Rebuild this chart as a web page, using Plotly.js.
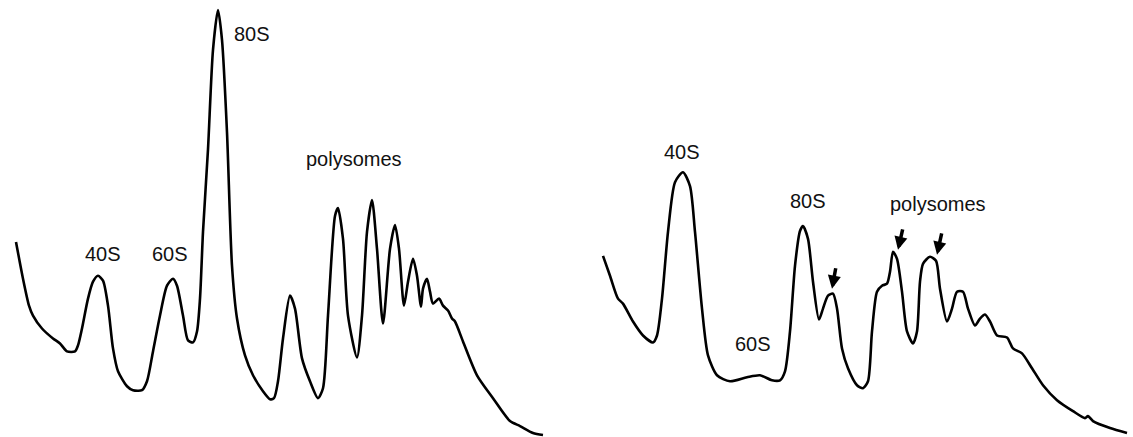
<!DOCTYPE html>
<html>
<head>
<meta charset="utf-8">
<script src="https://cdn.plot.ly/plotly-3.0.1.min.js"></script>
<style>html,body{margin:0;padding:0;background:#fff;}#chart{width:1133px;height:437px;}</style>
</head>
<body>
<div id="chart"></div>
<script>
// Left profile: position along gradient (x) and absorbance height (y)
const leftX = [16,23,29,33,42,53,60,67,75,78,82,88,93,98,103,108,113,118,127,133,142,147,153,160,167,173,177,183,188,193,197,200,203,208,213,218,222,227,232,237,245,253,263,270,274,278,283,290,295,302,310,318,323,328,335,338,343,348,357,362,367,372,377,383,390,395,399,404,408,413,417,421,423,427,430,433,439,443,448,452,455,463,477,493,510,520,533,543];
const leftPy = [243,280,307,317,330,340,345,353,353,347,330,300,283,277,282,307,350,373,388,392,392,383,353,317,287,280,287,317,342,344,333,300,233,150,50,10,40,133,267,320,357,377,393,401,400,383,340,297,310,360,383,400,390,317,217,209,240,317,359,317,233,201,250,325,250,226,250,307,283,260,277,308,290,280,293,305,300,307,312,320,323,343,377,400,423,428,435,437];

// Right profile
const rightX = [603,610,618,623,633,643,653,657,662,668,675,683,690,695,702,708,717,730,747,760,772,780,785,790,795,800,803,808,813,819,823,828,833,837,842,848,857,863,868,872,877,882,887,890,893,897,902,907,913,917,920,923,930,936,940,947,952,957,963,968,975,980,985,990,997,1007,1013,1022,1032,1043,1057,1073,1085,1088,1093,1110,1127];
const rightPy = [257,277,300,305,323,337,344,337,300,233,183,173,187,233,310,357,377,383,379,377,382,382,373,333,267,232,227,240,283,321,310,297,295,310,350,370,387,390,383,333,293,287,285,273,253,260,293,333,345,333,283,265,258,262,290,323,310,293,293,310,327,320,316,323,337,339,350,355,370,387,402,413,420,418,423,430,435];

const H = 437;
const leftY = leftPy.map(v => H - v);
const rightY = rightPy.map(v => H - v);

// Labels
const labelText = ["40S","60S","80S","polysomes","40S","80S","60S","polysomes"];
const labelX = [103,170,252,354,682,808,753,938];
const labelPy = [255,255,34,160,153,202,346,205];

// Arrows: tip positions and tail positions
const arrowTipX = [832,898,937];
const arrowTipPy = [290,251,256];
const arrowTailX = [836,903,942];
const arrowTailPy = [268,229,233];

const traces = [
  {x: leftX, y: leftY, mode: 'lines', line: {color: '#000', width: 2.6, shape: 'spline', smoothing: 0.7}, hoverinfo: 'skip'},
  {x: rightX, y: rightY, mode: 'lines', line: {color: '#000', width: 2.6, shape: 'spline', smoothing: 0.7}, hoverinfo: 'skip'}
];

const annotations = labelText.map((t, i) => ({
  text: t, x: labelX[i], y: H - labelPy[i], xref: 'x', yref: 'y', showarrow: false,
  font: {family: 'Liberation Sans, Arial, sans-serif', size: 20, color: '#111'}
}));
arrowTipX.forEach((ax, i) => {
  annotations.push({
    text: '', x: ax, y: H - arrowTipPy[i], xref: 'x', yref: 'y',
    ax: arrowTailX[i], ay: H - arrowTailPy[i], axref: 'x', ayref: 'y',
    showarrow: true, arrowhead: 2, arrowsize: 0.75, arrowwidth: 3.5, arrowcolor: '#000'
  });
});

const layout = {
  width: 1133, height: 437,
  margin: {l: 0, r: 0, t: 0, b: 0},
  paper_bgcolor: '#fff', plot_bgcolor: '#fff',
  showlegend: false,
  xaxis: {range: [0, 1133], visible: false, fixedrange: true},
  yaxis: {range: [-2, 437], visible: false, fixedrange: true},
  annotations: annotations
};

Plotly.newPlot('chart', traces, layout, {staticPlot: true, displayModeBar: false});
</script>
</body>
</html>
